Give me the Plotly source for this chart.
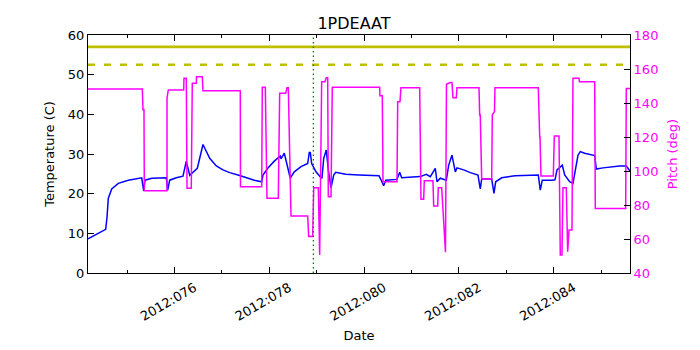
import plotly.graph_objects as go

# ---- data (day of year 2012) ----
temp_day = [74.175, 74.548, 74.576, 74.603, 74.675, 74.814, 75.025, 75.308, 75.350, 75.378,
            75.519, 75.799, 75.827, 75.856, 75.899, 76.038, 76.179, 76.249, 76.321, 76.481,
            76.601, 76.743, 76.882, 77.023, 77.165, 77.375, 77.683, 77.840, 77.867, 77.966,
            78.105, 78.232, 78.247, 78.316, 78.443, 78.527, 78.669, 78.810, 78.844, 78.865,
            78.894, 78.985, 79.091, 79.112, 79.148, 79.202, 79.245, 79.302, 79.359, 79.401,
            79.612, 79.892, 80.314, 80.356, 80.413, 80.456, 80.694, 80.751, 80.793, 81.186,
            81.312, 81.397, 81.502, 81.538, 81.608, 81.734, 81.785, 81.854, 81.924, 81.960,
            82.101, 82.240, 82.403, 82.451, 82.481, 82.692, 82.740, 82.776, 82.903, 83.183,
            83.675, 83.717, 83.759, 83.958, 84.027, 84.070, 84.181, 84.232, 84.337, 84.407,
            84.464, 84.513, 84.561, 84.654, 84.865, 84.899, 85.040, 85.392, 85.532, 85.610]
temp_c = [8.6, 11.0, 14.0, 18.8, 21.2, 22.6, 23.4, 24.0, 20.7, 23.4,
          23.9, 24.1, 24.0, 20.9, 23.4, 24.0, 24.4, 28.2, 24.6, 26.4,
          32.4, 28.9, 27.0, 26.0, 25.3, 24.6, 23.4, 23.0, 24.7, 26.4,
          28.2, 29.5, 28.8, 30.2, 23.9, 25.5, 26.8, 27.6, 30.4, 30.4,
          27.6, 25.5, 24.0, 24.0, 28.9, 31.0, 26.0, 21.5, 24.7, 25.4,
          24.9, 24.7, 24.5, 23.5, 22.0, 23.4, 23.6, 25.4, 24.0, 24.3,
          24.9, 24.3, 26.4, 23.0, 23.9, 23.4, 27.2, 29.7, 25.5, 26.5,
          26.0, 25.3, 24.7, 21.2, 23.7, 23.7, 20.1, 23.0, 24.0, 24.5,
          24.7, 20.9, 23.4, 23.4, 23.5, 26.0, 27.2, 24.7, 23.0, 22.6,
          26.4, 29.7, 30.6, 30.2, 29.6, 26.2, 26.5, 27.0, 27.0, 25.7]

pitch_day = [74.175, 75.321, 75.335, 75.356, 75.363, 75.842, 75.842, 75.869, 76.194, 76.200,
             76.249, 76.264, 76.354, 76.375, 76.460, 76.464, 76.586, 76.601, 77.388, 77.392,
             77.840, 77.852, 77.916, 77.951, 78.190, 78.219, 78.346, 78.373, 78.401, 78.458,
             78.810, 78.831, 78.915, 78.937, 79.034, 79.063, 79.105, 79.175, 79.202, 79.232,
             79.245, 79.302, 79.329, 80.329, 80.335, 80.384, 80.399, 80.694, 80.709, 80.757,
             80.778, 81.173, 81.200, 81.257, 81.270, 81.453, 81.468, 81.553, 81.565, 81.637,
             81.717, 81.738, 81.818, 81.854, 81.875, 81.945, 81.960, 82.424, 82.439, 82.451,
             82.481, 82.692, 82.705, 82.751, 82.761, 83.675, 83.705, 83.711, 83.732, 83.992,
             84.013, 84.112, 84.139, 84.175, 84.196, 84.266, 84.295, 84.323, 84.386, 84.407,
             84.534, 84.544, 84.865, 84.878, 85.519, 85.532, 85.610]
pitch_deg = [148.2, 148.2, 136.0, 136.0, 88.4, 88.4, 142.8, 147.6, 147.6, 154.5,
             154.5, 89.8, 89.8, 151.6, 151.6, 155.5, 155.5, 147.2, 147.2, 90.8,
             90.8, 149.2, 149.2, 83.9, 83.9, 145.7, 145.7, 149.0, 149.0, 73.5,
             73.5, 61.4, 61.4, 90.2, 90.2, 50.6, 152.5, 152.5, 154.9, 154.9,
             84.9, 84.9, 149.2, 149.2, 144.3, 144.3, 93.7, 93.7, 140.8, 140.8,
             149.0, 149.0, 83.4, 83.4, 94.3, 94.3, 79.4, 79.4, 90.2, 90.2,
             52.2, 151.0, 152.0, 152.0, 143.1, 143.1, 149.0, 149.0, 133.0, 133.0,
             95.3, 95.3, 133.0, 135.0, 149.0, 149.0, 120.2, 120.2, 97.1, 97.1,
             120.6, 120.6, 50.6, 50.6, 90.2, 90.2, 52.5, 65.3, 65.3, 154.5,
             154.5, 152.5, 152.5, 78.0, 78.0, 148.6, 148.6]

limit_solid = 57.0
limit_dashed = 52.5
event_day = 78.93

x_range = [74.175, 85.61]
major_days = [76, 78, 80, 82, 84]
major_labels = ["2012:076", "2012:078", "2012:080", "2012:082", "2012:084"]
minor_days = [75, 77, 79, 81, 83, 85]
temp_ticks = [0, 10, 20, 30, 40, 50, 60]
pitch_ticks = [40, 60, 80, 100, 120, 140, 160, 180]

FONT = "DejaVu Sans"
label_shift = 0.42  # days; puts rotated label centre under its tick

fig = go.Figure()
fig.add_trace(go.Scatter(x=temp_day, y=temp_c, mode="lines",
                         line=dict(color="#0000ff", width=1.5), yaxis="y", showlegend=False))
fig.add_trace(go.Scatter(x=pitch_day, y=pitch_deg, mode="lines",
                         line=dict(color="#ff00ff", width=1.5), yaxis="y2", showlegend=False))
fig.add_trace(go.Scatter(x=[], y=[], xaxis="x2", yaxis="y", showlegend=False))

fig.add_shape(type="line", xref="paper", x0=0, x1=1, yref="y", y0=limit_solid, y1=limit_solid,
              line=dict(color="#bfbf00", width=2.7))
fig.add_shape(type="line", xref="paper", x0=0, x1=1, yref="y", y0=limit_dashed, y1=limit_dashed,
              line=dict(color="#bfbf00", width=2.7, dash="7px,9px"))
fig.add_shape(type="line", xref="x", x0=event_day, x1=event_day, yref="paper", y0=0, y1=1,
              line=dict(color="#008000", width=1.3, dash="1.5px,3px"))

fig.update_layout(
    width=692, height=342,
    margin=dict(l=80, r=70, t=27, b=77, autoexpand=False),
    paper_bgcolor="white", plot_bgcolor="white",
    font=dict(family=FONT, size=13, color="black"),
    title=dict(text="1PDEAAT", x=0.5, xanchor="center", y=0.955, yanchor="middle",
               automargin=False, font=dict(family=FONT, size=16, color="black")),
    xaxis=dict(range=x_range, tickmode="array", tickvals=major_days, showticklabels=False,
               ticks="inside", ticklen=6, tickcolor="black", showline=True, linecolor="black",
               linewidth=1, mirror="ticks", showgrid=False, zeroline=False, automargin=False,
               minor=dict(tickmode="array", tickvals=minor_days, ticks="inside", ticklen=3,
                          tickcolor="black", showgrid=False)),
    xaxis2=dict(range=x_range, overlaying="x", anchor="y", side="bottom", tickmode="array",
                tickvals=[d + label_shift for d in major_days], ticktext=major_labels,
                tickangle=-30, ticks="", showline=False, showgrid=False, zeroline=False,
                automargin=False, ticklabelstandoff=4,
                tickfont=dict(family=FONT, size=13, color="black"),
                title=dict(text="Date", standoff=8, font=dict(family=FONT, size=13))),
    yaxis=dict(range=[0, 60], tickmode="array", tickvals=temp_ticks, ticks="inside", ticklen=6,
               tickcolor="black", showline=True, linecolor="black", linewidth=1,
               showgrid=False, zeroline=False, automargin=False, tickfont=dict(family=FONT, size=13),
               title=dict(text="Temperature (C)", standoff=10, font=dict(family=FONT, size=13))),
    yaxis2=dict(range=[40, 180], overlaying="y", side="right", anchor="x", tickmode="array",
                tickvals=pitch_ticks, ticks="inside", ticklen=6, tickcolor="black",
                showline=True, linecolor="black", linewidth=1, showgrid=False, zeroline=False,
                automargin=False, tickfont=dict(family=FONT, size=13, color="#ff00ff"),
                title=dict(text="Pitch (deg)", standoff=10,
                           font=dict(family=FONT, size=13, color="#ff00ff"))),
)

fig.write_html("out.html")
